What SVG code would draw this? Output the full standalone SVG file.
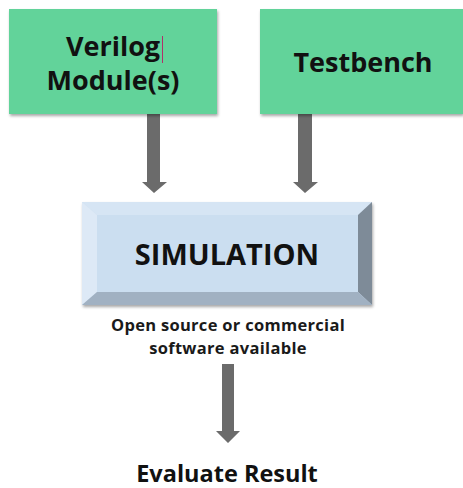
<svg xmlns="http://www.w3.org/2000/svg" width="463" height="488" viewBox="0 0 463 488">
<style>
  .box { fill: #62d39a; }
  .t { font-family: "Open Sans", "Liberation Sans", sans-serif; font-weight: 700; fill: #111; text-anchor: middle; }
  .big { font-size: 27px; }
  .sm { font-size: 16.5px; fill: #1a1a1a; letter-spacing: 0.3px; }
  .arrow { fill: #6b6b6b; }
</style>
<defs>
  <filter id="sh" x="-10%" y="-10%" width="130%" height="130%">
    <feGaussianBlur in="SourceAlpha" stdDeviation="1.5"/>
    <feOffset dx="1" dy="2" result="b"/>
    <feComponentTransfer><feFuncA type="linear" slope="0.35"/></feComponentTransfer>
    <feMerge><feMergeNode/><feMergeNode in="SourceGraphic"/></feMerge>
  </filter>
</defs>
<rect width="463" height="488" fill="#ffffff"/>

<g id="connectors">
  <path class="arrow" d="M147,114 H160 V182 H167 L154,193 L142,182 H147 Z"/>
  <path class="arrow" d="M298,114 H312 V182 H318 L305,193 L293,182 H298 Z"/>
  <path class="arrow" d="M222,364 H234 V431 H240 L228,443 L216,431 H222 Z"/>
</g>

<g id="verilog">
  <rect class="box" x="9" y="9" width="208" height="105" filter="url(#sh)"/>
  <text class="t big" x="113" y="56">Verilog</text>
  <text class="t big" x="113" y="90">Module(s)</text>
  <line x1="162.5" y1="36" x2="162.5" y2="63" stroke="#b0306a" stroke-width="1"/>
</g>

<g id="testbench">
  <rect class="box" x="260" y="9" width="203" height="105" filter="url(#sh)"/>
  <text class="t big" x="363" y="72">Testbench</text>
</g>

<g id="simulation">
  <g filter="url(#sh)">
    <rect x="82" y="202" width="290" height="103" fill="#cfe0f1"/>
  </g>
  <polygon points="82,202 372,202 358,215 97,215" fill="#d6e5f4"/>
  <polygon points="82,202 97,215 97,292 82,305" fill="#dde9f6"/>
  <polygon points="372,202 372,305 358,292 358,215" fill="#7e8b98"/>
  <polygon points="82,305 97,292 358,292 372,305" fill="#a1b1c2"/>
  <rect x="97" y="215" width="261" height="77" fill="#cbdef0"/>
  <text class="t" x="227" y="265" font-size="29px">SIMULATION</text>
</g>

<g id="note">
  <text class="t sm" x="228" y="331">Open source or commercial</text>
  <text class="t sm" x="228" y="354">software available</text>
</g>

<g id="evaluate">
  <text class="t" x="227" y="482" font-size="23.5px">Evaluate Result</text>
</g>
</svg>
